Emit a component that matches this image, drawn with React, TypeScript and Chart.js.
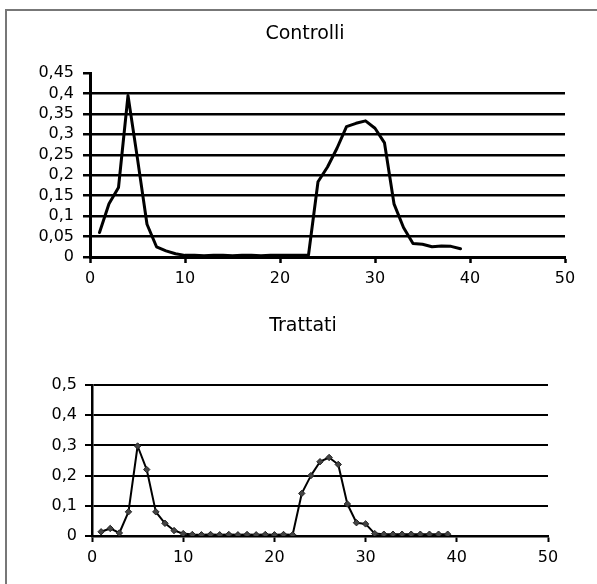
import React, { useEffect, useRef } from "react";
import { Chart, registerables } from "chart.js";

Chart.register(...registerables);

const xValues = [1, 2, 3, 4, 5, 6, 7, 8, 9, 10, 11, 12, 13, 14, 15, 16, 17, 18, 19, 20, 21, 22, 23, 24, 25, 26, 27, 28, 29, 30, 31, 32, 33, 34, 35, 36, 37, 38, 39];

const controlli = [0.06, 0.13, 0.17, 0.395, 0.24, 0.08, 0.025, 0.015, 0.008, 0.004, 0.004, 0.003, 0.004, 0.004, 0.003, 0.004, 0.004, 0.003, 0.004, 0.004, 0.004, 0.004, 0.005, 0.184, 0.22, 0.266, 0.319, 0.327, 0.333, 0.315, 0.279, 0.13, 0.072, 0.033, 0.031, 0.025, 0.027, 0.026, 0.02];

const trattati = [0.014, 0.025, 0.01, 0.08, 0.298, 0.22, 0.08, 0.042, 0.018, 0.008, 0.005, 0.004, 0.005, 0.004, 0.005, 0.004, 0.005, 0.004, 0.005, 0.004, 0.005, 0.004, 0.141, 0.2, 0.246, 0.26, 0.237, 0.106, 0.044, 0.04, 0.008, 0.006, 0.006, 0.006, 0.006, 0.006, 0.006, 0.006, 0.006];

const xTicks = [0, 10, 20, 30, 40, 50];
const yTicksTop = [0, 0.05, 0.1, 0.15, 0.2, 0.25, 0.3, 0.35, 0.4, 0.45];
const yTicksBottom = [0, 0.1, 0.2, 0.3, 0.4, 0.5];

const titleTop = "Controlli";
const titleBottom = "Trattati";

const FONT = '"DejaVu Sans", "Liberation Sans", Arial, sans-serif';

const fmt = (v: number) => String(parseFloat(Number(v).toFixed(2))).replace(".", ",");

const posTitle = {
  id: "posTitle",
  afterDraw(chart: any, _args: any, opts: any) {
    const { ctx } = chart;
    ctx.save();
    ctx.font = `${opts.size}px ${FONT}`;
    ctx.fillStyle = "#000";
    ctx.textAlign = "center";
    ctx.textBaseline = "middle";
    ctx.fillText(opts.text, opts.x, opts.y);
    ctx.restore();
  },
};

type Props = {
  top: number;
  height: number;
  values: number[];
  yTicks: number[];
  title: string;
  titleY: number;
  titleX: number;
  padTop: number;
  padRight: number;
  yWidth: number;
  xHeight: number;
  lineW: number;
  gridW: number;
  markers: boolean;
  hideTopGrid: boolean;
  yTickLen: number;
  yPad: number;
};

function LineChart(p: Props) {
  const ref = useRef<HTMLCanvasElement | null>(null);
  useEffect(() => {
    if (!ref.current) return;
    const yMax = p.yTicks[p.yTicks.length - 1];
    const chart = new Chart(ref.current, {
      type: "line",
      data: {
        datasets: [
          {
            data: xValues.map((x, i) => ({ x, y: p.values[i] })),
            borderColor: "#000",
            borderWidth: p.lineW,
            borderJoinStyle: "round",
            borderCapStyle: "round",
            backgroundColor: "#333",
            pointRadius: p.markers ? 3.2 : 0,
            pointStyle: "rectRot",
            pointBorderColor: "#222",
            pointBackgroundColor: "#444",
            pointBorderWidth: 1,
            tension: 0,
            fill: false,
          },
        ],
      },
      options: {
        animation: false,
        responsive: false,
        maintainAspectRatio: false,
        events: [],
        layout: { padding: { top: p.padTop, right: p.padRight, left: 0, bottom: 0 } },
        plugins: {
          legend: { display: false },
          tooltip: { enabled: false },
          title: { display: false },
          posTitle: { text: p.title, x: p.titleX, y: p.titleY, size: 19 },
        } as any,
        scales: {
          x: {
            type: "linear",
            min: 0,
            max: 50,
            afterBuildTicks: (s: any) => {
              s.ticks = xTicks.map((v) => ({ value: v }));
            },
            afterFit: (s: any) => {
              s.height = p.xHeight;
            },
            ticks: {
              color: "#000",
              font: { family: FONT, size: 16 },
              padding: 6,
              maxRotation: 0,
              autoSkip: false,
            },
            grid: {
              display: true,
              drawOnChartArea: false,
              drawTicks: true,
              tickLength: 6,
              tickColor: "#000",
              tickWidth: p.gridW,
              color: "#000",
            },
            border: { display: true, color: "#000", width: p.gridW + 0.5 },
          },
          y: {
            type: "linear",
            min: 0,
            max: yMax,
            afterBuildTicks: (s: any) => {
              s.ticks = p.yTicks.map((v) => ({ value: v }));
            },
            afterFit: (s: any) => {
              s.width = p.yWidth;
            },
            ticks: {
              color: "#000",
              font: { family: FONT, size: 16 },
              padding: p.yPad,
              autoSkip: false,
              callback: (v: any) => fmt(Number(v)),
            },
            grid: {
              display: true,
              drawTicks: true,
              tickLength: p.yTickLen,
              tickColor: "#000",
              tickWidth: p.gridW,
              lineWidth: p.gridW,
              color: (c: any) =>
                p.hideTopGrid && c.tick && Math.abs(c.tick.value - yMax) < 1e-9 ? "rgba(0,0,0,0)" : "#000",
            },
            border: { display: true, color: "#000", width: p.gridW + 0.5 },
          },
        },
      },
      plugins: [posTitle as any],
    });
    return () => chart.destroy();
  }, []);
  return (
    <canvas
      ref={ref}
      width={567}
      height={p.height}
      style={{ position: "absolute", left: 30, top: p.top, width: 567, height: p.height }}
    />
  );
}

export default function App() {
  return (
    <div
      style={{
        position: "fixed",
        left: 0,
        top: 0,
        width: 597,
        height: 584,
        overflow: "hidden",
        background: "#fff",
      }}
    >
      <div
        style={{
          position: "absolute",
          left: 5,
          top: 9,
          width: 700,
          height: 700,
          borderLeft: "2px solid #777",
          borderTop: "2px solid #777",
        }}
      />
      <LineChart
        top={0}
        height={290}
        values={controlli}
        yTicks={yTicksTop}
        title={titleTop}
        titleX={275}
        titleY={34}
        padTop={73}
        padRight={32}
        yWidth={60}
        xHeight={33}
        lineW={3}
        gridW={2.5}
        markers={false}
        hideTopGrid={true}
        yTickLen={7}
        yPad={9}
      />
      <LineChart
        top={290}
        height={294}
        values={trattati}
        yTicks={yTicksBottom}
        title={titleBottom}
        titleX={273}
        titleY={36}
        padTop={95}
        padRight={49}
        yWidth={62}
        xHeight={48}
        lineW={2}
        gridW={2}
        markers={true}
        hideTopGrid={false}
        yTickLen={7}
        yPad={8}
      />
    </div>
  );
}
